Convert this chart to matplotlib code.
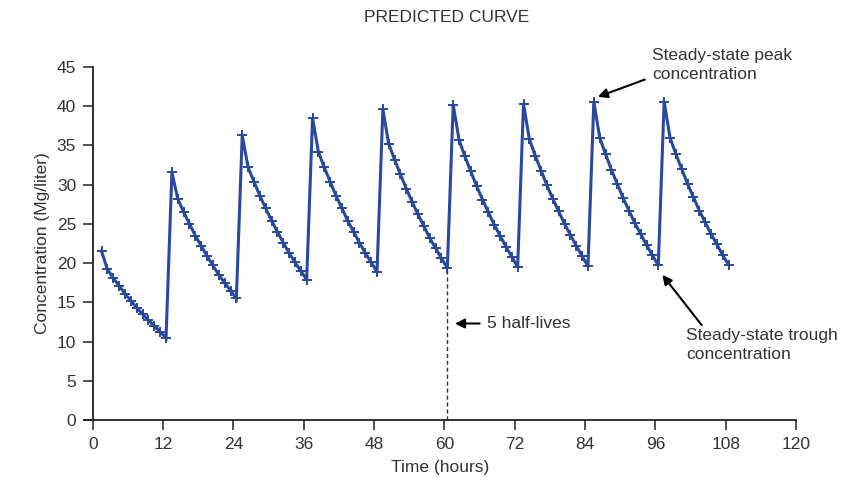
import numpy as np
import matplotlib
matplotlib.use("Agg")
import matplotlib.pyplot as plt

plt.rcParams['font.family'] = ['Liberation Sans', 'DejaVu Sans']

# Dose schedule (hours) and sampling times after each dose
dose_times = [0, 12, 24, 36, 48, 60, 72, 84, 96]
hours_after_dose = [1.5, 2.5, 3.5, 4.5, 5.5, 6.5, 7.5, 8.5, 9.5, 10.5, 11.5, 12.5]

# Concentration (Mg/liter) per dosing cycle
cycle_values = [
    [21.5, 19.2, 18.1, 17.1, 16.1, 15.2, 14.3, 13.5, 12.7, 12.0, 11.2, 10.5],
    [31.6, 28.2, 26.5, 25.0, 23.5, 22.2, 20.9, 19.7, 18.5, 17.5, 16.5, 15.5],
    [36.3, 32.2, 30.4, 28.6, 27.0, 25.4, 24.0, 22.6, 21.3, 20.1, 19.0, 17.9],
    [38.5, 34.2, 32.2, 30.4, 28.6, 27.0, 25.4, 24.0, 22.6, 21.3, 20.1, 18.9],
    [39.6, 35.2, 33.2, 31.3, 29.5, 27.8, 26.2, 24.7, 23.2, 21.9, 20.6, 19.4],
    [40.2, 35.7, 33.6, 31.7, 29.8, 28.1, 26.5, 24.9, 23.5, 22.1, 20.8, 19.5],
    [40.3, 35.8, 33.7, 31.8, 29.9, 28.2, 26.6, 25.0, 23.6, 22.2, 20.9, 19.6],
    [40.6, 36.0, 33.9, 31.9, 30.1, 28.3, 26.7, 25.1, 23.7, 22.3, 21.0, 19.7],
    [40.6, 36.0, 33.9, 32.0, 30.1, 28.4, 26.7, 25.2, 23.7, 22.4, 21.0, 19.8],
]

x_ticks = [0, 12, 24, 36, 48, 60, 72, 84, 96, 108, 120]
y_ticks = [0, 5, 10, 15, 20, 25, 30, 35, 40, 45]

half_life_marker_time = 60.5
half_life_marker_level = 19.5

times = []
conc = []
for d, vals in zip(dose_times, cycle_values):
    for h, v in zip(hours_after_dose, vals):
        times.append(d + h)
        conc.append(v)

fig = plt.figure(figsize=(8.68, 4.87), dpi=100)
ax = fig.add_axes([84/868, (487-420)/487, (796-84)/868, (420-67)/487])

line_color = '#28499c'
ax.plot(times, conc, color=line_color, lw=2.2, marker='+', ms=7, mew=1.4,
        solid_joinstyle='miter')

FS = 12.5
TXT = '#333333'
ax.set_xlim(-1.5, 120)
ax.set_ylim(0, 45)
ax.spines['top'].set_visible(False)
ax.spines['right'].set_visible(False)
ax.spines['left'].set_position(('data', 0))
for s in ['left', 'bottom']:
    ax.spines[s].set_linewidth(1.3)
    ax.spines[s].set_color('#222222')
ax.set_xticks(x_ticks)
ax.set_yticks(y_ticks)
ax.tick_params(axis='both', direction='out', length=7, width=1.1,
               colors='#222222', labelsize=FS, labelcolor=TXT)
ax.tick_params(axis='y', pad=5)
ax.tick_params(axis='x', pad=5)
ax.set_xlabel('Time (hours)', fontsize=FS, color=TXT, labelpad=6)
ax.set_ylabel('Concentration (Mg/liter)', fontsize=FS, color=TXT, labelpad=5)

# 5 half-lives dashed marker
ax.plot([half_life_marker_time, half_life_marker_time], [0, half_life_marker_level],
        ls=(0, (3, 2)), color='#333333', lw=1.0)
ax.annotate('5 half-lives', xy=(61.8, 12.3), xytext=(67.2, 12.3),
            fontsize=FS, color=TXT, va='center', ha='left',
            arrowprops=dict(arrowstyle='-|>', color='black', lw=1.5,
                            mutation_scale=14, shrinkA=3, shrinkB=0))

ax.text(95.4, 47.4, 'Steady-state peak\nconcentration',
        fontsize=FS, color=TXT, va='top', ha='left', linespacing=1.3)
ax.annotate('', xy=(86.2, 41.2), xytext=(94.2, 43.4),
            arrowprops=dict(arrowstyle='-|>', color='black', lw=1.5,
                            mutation_scale=14, shrinkA=0, shrinkB=0))

ax.text(101.2, 11.7, 'Steady-state trough\nconcentration',
        fontsize=FS, color=TXT, va='top', ha='left', linespacing=1.3)
ax.annotate('', xy=(97.2, 18.5), xytext=(103.9, 12.1),
            arrowprops=dict(arrowstyle='-|>', color='black', lw=1.5,
                            mutation_scale=14, shrinkA=0, shrinkB=0))

fig.text(447/868, 1 - 18/487, 'PREDICTED CURVE', ha='center', va='center',
         fontsize=FS, color=TXT)

fig.savefig('out.png', dpi=100)
